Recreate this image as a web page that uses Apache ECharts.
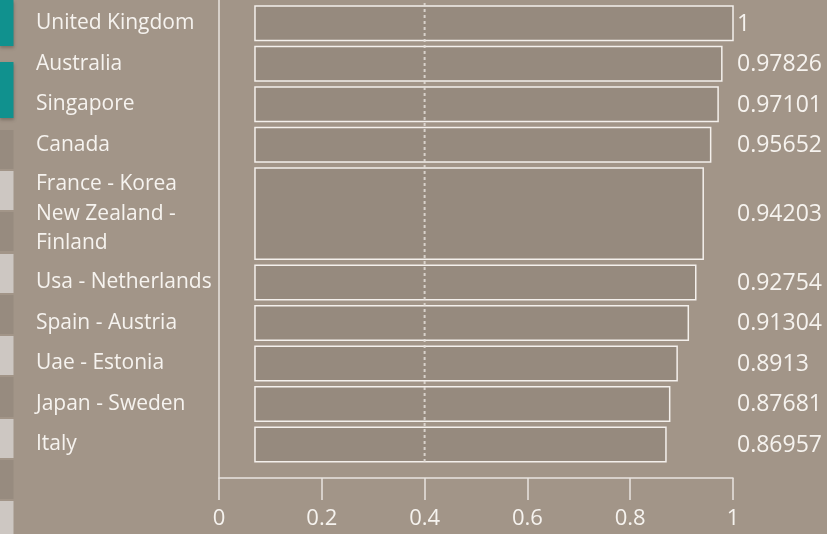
<!DOCTYPE html>
<html>
<head>
<meta charset="utf-8">
<script src="https://cdn.jsdelivr.net/npm/echarts@6/dist/echarts.min.js"></script>
<style>
  html, body { margin: 0; padding: 0; background: #a29588; }
  #chart { width: 827px; height: 534px; }
</style>
</head>
<body>
<div id="chart"></div>
<script>
// Country groups (multi-line groups share one bar) and their scores
const categories = [
  'United Kingdom',
  'Australia',
  'Singapore',
  'Canada',
  'France - Korea\nNew Zealand -\nFinland',
  'Usa - Netherlands',
  'Spain - Austria',
  'Uae - Estonia',
  'Japan - Sweden',
  'Italy'
];
const scores = [1, 0.97826, 0.97101, 0.95652, 0.94203, 0.92754, 0.91304, 0.8913, 0.87681, 0.86957];
const xTicks = [0, 0.2, 0.4, 0.6, 0.8, 1];
const barStart = 0.07;
const referenceValue = 0.4;

// Row heights grow with the number of label lines
const spans = categories.map(c => 1 + (c.split('\n').length - 1) * 0.7);
const rows = [];
let acc = 0;
categories.forEach((c, i) => {
  rows.push([acc, acc + spans[i], scores[i], i]);
  acc += spans[i];
});
const totalSpan = acc;

const textColor = '#f6f3ef';
const axisColor = '#e9e4df';
const font = '"Open Sans", "Noto Sans", sans-serif';

const chart = echarts.init(document.getElementById('chart'), null, { renderer: 'canvas' });

const sideBlocks = [
  [0, 46, '#10918e', true], [62, 118, '#10918e', true],
  [130, 169, '#978b7f'], [171, 210, '#cdc7c2'],
  [212, 251, '#978b7f'], [254, 293, '#cdc7c2'],
  [295, 334, '#978b7f'], [336, 375, '#cdc7c2'],
  [377, 417, '#978b7f'], [419, 458, '#cdc7c2'],
  [460, 499, '#978b7f'], [501, 534, '#cdc7c2']
];

chart.setOption({
  backgroundColor: '#a29588',
  animation: false,
  graphic: sideBlocks.map(b => ({
    type: 'rect',
    shape: { x: 0, y: b[0], width: 13.5, height: b[1] - b[0] },
    style: b[3]
      ? { fill: b[2], shadowBlur: 3, shadowOffsetY: 2, shadowColor: 'rgba(60,50,40,0.35)' }
      : { fill: b[2] },
    z: 10
  })),
  grid: { left: 219, right: 94, top: 0, bottom: 56 },
  xAxis: {
    type: 'value',
    position: 'bottom',
    min: xTicks[0],
    max: xTicks[xTicks.length - 1],
    interval: 0.2,
    axisLine: { show: true, onZero: false, lineStyle: { color: axisColor, width: 1.5 } },
    axisTick: { show: true, length: 22, lineStyle: { color: axisColor, width: 1.5 } },
    axisLabel: {
      color: textColor, fontSize: 22, fontFamily: font, margin: 30,
      formatter: v => String(v)
    },
    splitLine: { show: false }
  },
  yAxis: {
    type: 'value',
    position: 'left',
    inverse: true,
    min: -0.074,
    max: 11.73,
    axisLine: { show: true, onZero: false, lineStyle: { color: axisColor, width: 1.5 } },
    axisTick: { show: false },
    axisLabel: { show: false },
    splitLine: { show: false }
  },
  series: [
    {
      type: 'custom',
      clip: false,
      encode: { x: 2, y: [0, 1] },
      data: rows,
      renderItem: function (params, api) {
        const i = api.value(3);
        const y0 = api.value(0), y1 = api.value(1), v = api.value(2);
        const pStart = api.coord([barStart, y0]);
        const pEnd = api.coord([v, y1]);
        const pad = 3;
        const top = pStart[1] + pad;
        const bottom = pEnd[1] - pad;
        const cy = (top + bottom) / 2;
        const labelX = api.coord([xTicks[xTicks.length - 1], y0])[0] + 4;
        return {
          type: 'group',
          children: [
            {
              type: 'rect',
              shape: { x: pStart[0], y: top, width: pEnd[0] - pStart[0], height: bottom - top },
              style: { fill: '#968a7e', stroke: '#f4f0ec', lineWidth: 1.5 }
            },
            {
              type: 'text',
              style: {
                x: 36, y: cy, text: categories[i],
                fill: textColor, font: '21px ' + font,
                align: 'left', verticalAlign: 'middle', lineHeight: 29.5
              }
            },
            {
              type: 'text',
              style: {
                x: labelX, y: cy + 1, text: String(v),
                fill: textColor, font: '23px ' + font,
                align: 'left', verticalAlign: 'middle'
              }
            }
          ]
        };
      },
      z: 2
    },
    {
      type: 'line',
      symbol: 'none',
      silent: true,
      data: [[referenceValue, 0], [referenceValue, totalSpan]],
      lineStyle: { color: 'rgba(228,222,216,0.85)', width: 2, type: [3, 3] },
      z: 3
    }
  ]
});
</script>
</body>
</html>
